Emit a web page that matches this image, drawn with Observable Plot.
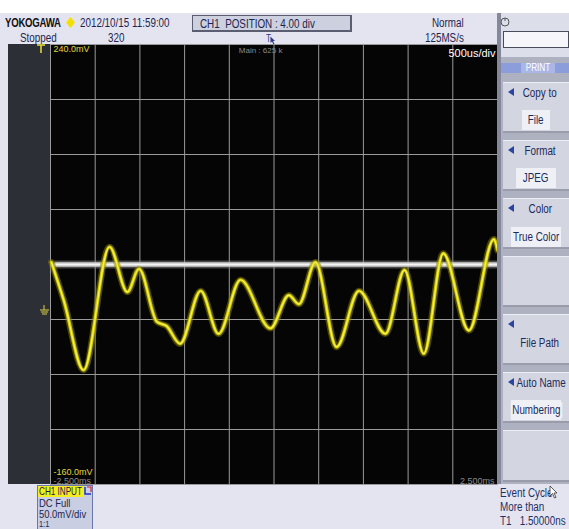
<!DOCTYPE html>
<html>
<head>
<meta charset="utf-8">
<script src="https://cdn.jsdelivr.net/npm/d3@7"></script>
<script src="https://cdn.jsdelivr.net/npm/@observablehq/plot@0.6"></script>
<style>
  html, body { margin: 0; padding: 0; background: #ffffff; }
  #wrap { position: relative; width: 569px; height: 529px; overflow: hidden;
          font-family: "Liberation Sans", Arial, sans-serif; }
  .abs { position: absolute; }
  .t { position: absolute; white-space: nowrap; font-size: 12px; color: #1c2450; line-height: 1;
       transform: scaleX(0.82); transform-origin: 0 0; }
  .btn { position: absolute; left: 503px; width: 66px; height: 51px; background: #d3d5e1;
         border-top: 1px solid #eceef6; border-bottom: 2px solid #9a9cac; box-sizing: border-box; }
  .btn .l1 { position: absolute; top: 4px; left: 8px; width: 58px; text-align: center; font-size: 12px; color: #1c2a5c; line-height: 1; }
  .btn .l2 { position: absolute; top: 27px; left: 0; width: 66px; text-align: center; line-height: 1; }
  .btn .l2 span { display: inline-block; padding: 2px 2px; background: #eef0f6; font-size: 12px; color: #1c2a5c; white-space: nowrap; }
  .sq { display: inline-block; transform: scaleX(0.82); transform-origin: 50% 0; white-space: nowrap; }
  .btn .tri { position: absolute; left: 5px; top: 5px; width: 0; height: 0;
              border-top: 4px solid transparent; border-bottom: 4px solid transparent; border-right: 6px solid #2a44a0; }
</style>
</head>
<body>
<div id="wrap">
  <!-- backgrounds -->
  <div class="abs" style="left:0;top:13px;width:569px;height:516px;background:#e4e4f0;"></div>
  <div class="abs" style="left:8px;top:44px;width:42px;height:440px;background:#2c3036;"></div>
  <div id="chart" class="abs" style="left:0;top:0;"></div>

  <!-- header -->
  <div class="t" style="left:5px;top:17px;font-weight:bold;color:#111;font-size:12px;transform:scaleX(0.8);letter-spacing:-0.3px;">YOKOGAWA</div>
  <svg class="abs" style="left:66px;top:17px;" width="9" height="11"><polygon points="4.5,0 9,5.5 4.5,11 0,5.5" fill="#f4e000"/></svg>
  <div class="t" style="left:80px;top:17px;">2012/10/15 11:59:00</div>
  <div class="t" style="left:20px;top:32px;">Stopped</div>
  <div class="t" style="left:108px;top:32px;">320</div>
  <div class="abs" style="left:192px;top:15px;width:160px;height:17px;background:#cdd0de;border:1px solid #5a5e70;box-sizing:border-box;border-right:2px solid #5a5e70;border-bottom:2px solid #5a5e70;"></div>
  <div class="t" style="left:200px;top:18px;">CH1&nbsp;&nbsp;POSITION : 4.00 div</div>
  <div class="t" style="left:266px;top:34px;font-size:10px;color:#2a3a80;">T</div>
  <svg class="abs" style="left:270px;top:36px;" width="6" height="9"><path d="M0.5,0.5 L0.5,7 L2,5.5 L3.5,8.5 L4.5,8 L3,5 L5,5 Z" fill="#2a3a80"/></svg>
  <div class="t" style="left:432px;top:17px;">Normal</div>
  <div class="t" style="left:425px;top:32px;">125MS/s</div>

  <!-- right panel -->
  <div class="abs" style="left:497px;top:13px;width:72px;height:471px;background:#aeb1bf;"></div>
  <div class="abs" style="left:497px;top:13px;width:4px;height:471px;background:#85889a;"></div>
  <div class="abs" style="left:501px;top:13px;width:68px;height:44px;background:#dcdeea;"></div>
  <svg class="abs" style="left:499px;top:16px;" width="12" height="12"><circle cx="6" cy="6" r="4" fill="none" stroke="#555" stroke-width="1"/><line x1="6" y1="2" x2="6" y2="5" stroke="#555"/></svg>
  <div class="abs" style="left:503px;top:31px;width:66px;height:17px;background:#f6f6fa;border:1px solid #4a4c5c;box-sizing:border-box;"></div>
  <div class="abs" style="left:501px;top:63px;width:68px;height:10px;background:#8c9ddc;"></div>
  <div class="abs" style="left:521px;top:63px;width:34px;height:10px;background:#a9b6e6;color:#fff;font-size:10px;text-align:center;line-height:10px;"><span class="sq">PRINT</span></div>

  <div class="btn" style="top:82px;"><div class="tri"></div><div class="l1"><span class="sq">Copy to</span></div><div class="l2"><span><span class="sq">File</span></span></div></div>
  <div class="btn" style="top:140px;"><div class="tri"></div><div class="l1"><span class="sq">Format</span></div><div class="l2"><span><span class="sq">JPEG</span></span></div></div>
  <div class="btn" style="top:198px;"><div class="tri"></div><div class="l1"><span class="sq">Color</span></div><div class="l2" style="top:28px;"><span style="padding:2px 0;"><span class="sq" style="margin:0 -5px;">True Color</span></span></div></div>
  <div class="btn" style="top:256px;"></div>
  <div class="btn" style="top:314px;"><div class="tri"></div><div class="l1" style="top:22px;"><span class="sq">File Path</span></div></div>
  <div class="btn" style="top:372px;"><div class="tri"></div><div class="l1"><span class="sq">Auto Name</span></div><div class="l2"><span style="padding:2px 0;"><span class="sq" style="margin:0 -6px;">Numbering</span></span></div></div>
  <div class="btn" style="top:430px;height:52px;"></div>

  <!-- bottom -->
  <div class="abs" style="left:37px;top:485px;width:56px;height:50px;background:#c9cee2;border:1px solid #6a76a6;box-sizing:border-box;"></div>
  <div class="abs" style="left:38px;top:486px;width:46px;height:11px;background:#f2ee20;"></div>
  <div class="t" style="left:39px;top:486px;font-size:11px;color:#202050;transform:scaleX(0.74);">CH1&nbsp;INPUT</div>
  <svg class="abs" style="left:84px;top:486px;" width="8" height="10"><path d="M1,1 V8 H7" fill="none" stroke="#2030c0" stroke-width="1.5"/><path d="M3,1 H7 V6" fill="none" stroke="#d02040" stroke-width="1.2"/></svg>
  <div class="t" style="left:39px;top:498px;font-size:11.5px;">DC Full</div>
  <div class="t" style="left:39px;top:509px;font-size:11.5px;">50.0mV/div</div>
  <div class="t" style="left:39px;top:520px;font-size:9px;">1:1</div>
  <div class="t" style="left:500px;top:487px;font-size:12px;color:#223066;">Event Cycle</div>
  <svg class="abs" style="left:549px;top:485px;" width="9" height="14"><path d="M1,1 L1,11 L3.5,8.5 L5.5,13 L7,12.3 L5,8 L8,8 Z" fill="#fff" stroke="#333" stroke-width="0.8"/></svg>
  <div class="t" style="left:500px;top:501px;font-size:12px;color:#223066;">More than</div>
  <div class="t" style="left:500px;top:515px;font-size:12px;color:#223066;">T1&nbsp;&nbsp;&nbsp;1.50000ns</div>

  <!-- trigger & ground markers -->
  <svg class="abs" style="left:36px;top:44px;" width="10" height="10"><path d="M1,1 H9 M5,1 V9" stroke="#e8e030" stroke-width="1.5" fill="none"/></svg>
  <svg class="abs" style="left:38px;top:304px;" width="12" height="14">
    <line x1="2" y1="6" x2="11" y2="6" stroke="#d8d040" stroke-width="1"/>
    <line x1="3" y1="8" x2="10" y2="8" stroke="#d8d040" stroke-width="1"/>
    <line x1="4" y1="10" x2="9" y2="10" stroke="#d8d040" stroke-width="1"/>
    <line x1="6" y1="1" x2="6" y2="6" stroke="#d8d040" stroke-width="1"/>
  </svg>
</div>
<script>
// time axis (ms) and voltage (mV) scale
const xTicks = [-2.5, -2.0, -1.5, -1.0, -0.5, 0, 0.5, 1.0, 1.5, 2.0, 2.5];
const yTicks = [-160, -110, -60, -10, 40, 90, 140, 190, 240];
const yLabelTop = "240.0mV";
const yLabelBottom = "-160.0mV";
const xLabelLeft = "-2.500ms";
const xLabelRight = "2.500ms";
const timebase = "500us/div";
const mainLabel = "Main : 625 k";

// CH1 (yellow) trace
const ch1Time = [-2.49, -2.35, -2.13, -1.84, -1.64, -1.51, -1.31, -1.20, -1.05, -0.82, -0.62, -0.375,
                 -0.04, 0.166, 0.278, 0.464, 0.70, 0.95, 1.247, 1.46, 1.676, 1.893, 2.18, 2.46, 2.5];
const ch1mV   = [42, 7, -56, 56, 15, 36, -12, -16, -32, 16, -23, 26,
                 -18, 12, 4, 42, -35, 16, -23, 35, -41, 50, -20, 63, 53];

// reference (white) trace
const refTime = [-2.44, -1.5, -0.5, 0.5, 1.5, 2.5];
const refmV   = [40, 40, 40, 40, 40, 40];

const ch1 = ch1Time.map((t, i) => ({t, v: ch1mV[i]}));
const ref = refTime.map((t, i) => ({t, v: refmV[i]}));

const chart = Plot.plot({
  width: 569,
  height: 529,
  marginLeft: 50,
  marginRight: 72,
  marginTop: 44,
  marginBottom: 45,
  x: {domain: [-2.5, 2.5], axis: null},
  y: {domain: [-160, 240], axis: null},
  style: {background: "transparent", fontFamily: "'Liberation Sans',Arial,sans-serif"},
  marks: [
    Plot.frame({fill: "#050505", stroke: null}),
    Plot.ruleX(xTicks, {stroke: "#9a9a9a", strokeWidth: 1, strokeOpacity: 1}),
    Plot.ruleY(yTicks, {stroke: "#9a9a9a", strokeWidth: 1, strokeOpacity: 1}),
    // reference trace
    Plot.line(ref, {x: "t", y: "v", stroke: "#8c8c8c", strokeWidth: 8, strokeOpacity: 0.5}),
    Plot.line(ref, {x: "t", y: "v", stroke: "#cfcfcf", strokeWidth: 4.5}),
    Plot.line(ref, {x: "t", y: "v", stroke: "#f4f4f4", strokeWidth: 1.5}),
    // CH1 trace with noise envelope
    Plot.line(ch1, {x: "t", y: "v", curve: "monotone-x", stroke: "#8a8400", strokeWidth: 6.5, strokeOpacity: 0.5}),
    Plot.line(ch1, {x: "t", y: "v", curve: "monotone-x", stroke: "#c8c000", strokeWidth: 3.4}),
    Plot.line(ch1, {x: "t", y: "v", curve: "monotone-x", stroke: "#f6f050", strokeWidth: 1.4}),
    // labels
    Plot.text([yLabelTop], {x: -2.5, y: 240, dx: 3, dy: 1, text: d => d, textAnchor: "start", lineAnchor: "top", fill: "#e0d840", fontSize: 9}),
    Plot.text([mainLabel], {x: -0.15, y: 240, dy: 3, text: d => d, textAnchor: "middle", lineAnchor: "top", fill: "#8a8a8a", fontSize: 8}),
    Plot.text([timebase], {x: 2.5, y: 240, dx: -2, dy: 5, text: d => d, textAnchor: "end", lineAnchor: "top", fill: "#ffffff", fontSize: 11}),
    Plot.text([yLabelBottom], {x: -2.5, y: -160, dx: 3, dy: -10, text: d => d, textAnchor: "start", lineAnchor: "bottom", fill: "#e0d840", fontSize: 9}),
    Plot.text([xLabelLeft], {x: -2.5, y: -160, dx: 3, dy: -1, text: d => d, textAnchor: "start", lineAnchor: "bottom", fill: "#8a8a8a", fontSize: 9}),
    Plot.text([xLabelRight], {x: 2.5, y: -160, dx: -3, dy: -1, text: d => d, textAnchor: "end", lineAnchor: "bottom", fill: "#8a8a8a", fontSize: 9})
  ]
});
document.getElementById("chart").appendChild(chart);
</script>
</body>
</html>
